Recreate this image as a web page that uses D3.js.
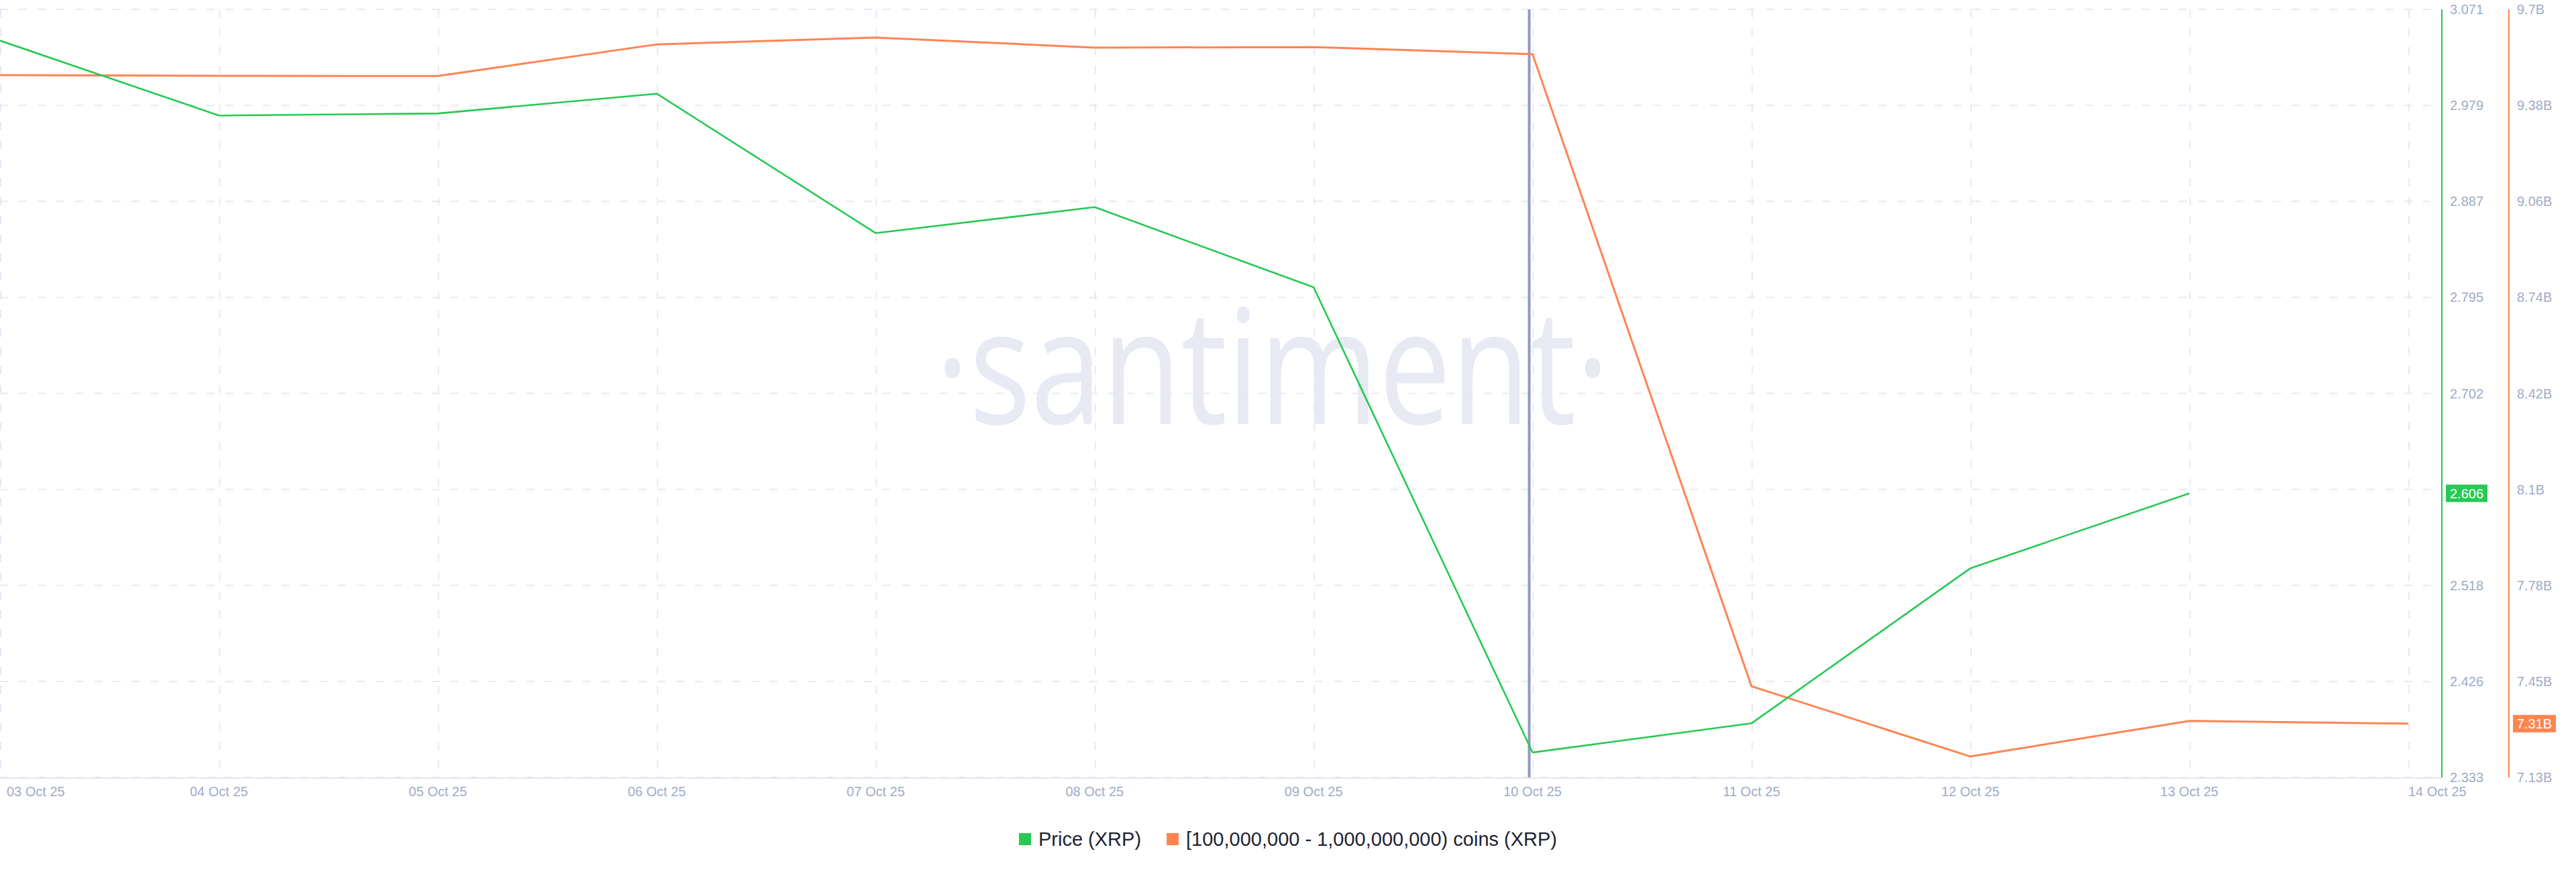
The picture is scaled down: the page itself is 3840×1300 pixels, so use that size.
<!DOCTYPE html>
<html>
<head>
<meta charset="utf-8">
<script src="https://cdn.jsdelivr.net/npm/d3@7"></script>
<style>
  html, body { margin: 0; padding: 0; background: #ffffff; }
  svg { display: block; }
</style>
</head>
<body>
<svg id="chart" width="3840" height="1300"></svg>
<script>
// ---------------- DATA ----------------
const dates = ["2025-10-03","2025-10-04","2025-10-05","2025-10-06","2025-10-07","2025-10-08",
               "2025-10-09","2025-10-10","2025-10-11","2025-10-12","2025-10-13","2025-10-14"];
const priceXRP = [3.041, 2.969, 2.971, 2.990, 2.856, 2.881, 2.804, 2.357, 2.385, 2.534, 2.606];
const holdersBillions = [9.480, 9.478, 9.477, 9.583, 9.606, 9.572, 9.574, 9.550, 7.435, 7.200, 7.319, 7.310];

const priceTickValues = [2.333, 2.42525, 2.5175, 2.60975, 2.702, 2.79425, 2.8865, 2.97875, 3.071];
const priceTickLabels = ["2.333","2.426","2.518","2.61","2.702","2.795","2.887","2.979","3.071"];
const holderTickValues = [7.13, 7.45125, 7.7725, 8.09375, 8.415, 8.73625, 9.0575, 9.37875, 9.7];
const holderTickLabels = ["7.13B","7.45B","7.78B","8.1B","8.42B","8.74B","9.06B","9.38B","9.7B"];

const priceLatestLabel = "2.606";
const holdersLatestLabel = "7.31B";
const markerDate = "2025-10-09T23:38:00Z";
const legendItems = [
  {name: "Price (XRP)", color: "#26c953"},
  {name: "[100,000,000 - 1,000,000,000) coins (XRP)", color: "#ff8450"}
];
const watermark = "\u00B7santiment\u00B7";

// ---------------- LAYOUT ----------------
const W = 3840, H = 1300;
const plot = {left: 0, right: 3640, top: 14, bottom: 1159};
const greenAxisX = 3640, orangeAxisX = 3740;
const GREEN = "#26c953", ORANGE = "#ff8450";
const GRID = "#e6e9f3", LABEL = "#a0abc6";

const parse = d3.utcParse("%Y-%m-%d");
const dateObjs = dates.map(parse);

const svg = d3.select("#chart");
svg.append("rect").attr("width", W).attr("height", H).attr("fill", "#ffffff");

const x = d3.scaleUtc()
  .domain([dateObjs[0], dateObjs[dateObjs.length - 1]])
  .range([plot.left, 3590]);
const yPrice = d3.scaleLinear().domain([2.333, 3.071]).range([plot.bottom, plot.top]);
const yHold = d3.scaleLinear().domain([7.13, 9.7]).range([plot.bottom, plot.top]);

// watermark
svg.append("text")
  .attr("x", 1897).attr("y", 632)
  .attr("text-anchor", "middle")
  .attr("font-family", "'Open Sans', sans-serif")
  .attr("font-weight", 400)
  .attr("font-size", 238)
  .attr("textLength", 1005)
  .attr("lengthAdjust", "spacingAndGlyphs")
  .attr("fill", "#e7e9f3")
  .text(watermark);

// horizontal grid
svg.append("g").selectAll("line").data(priceTickValues).join("line")
  .attr("x1", plot.left).attr("x2", plot.right)
  .attr("y1", d => yPrice(d)).attr("y2", d => yPrice(d))
  .attr("stroke", GRID).attr("stroke-width", 2)
  .attr("stroke-dasharray", "12,16");

// vertical grid
svg.append("g").selectAll("line").data(dateObjs).join("line")
  .attr("x1", d => x(d) + 1).attr("x2", d => x(d) + 1)
  .attr("y1", plot.top).attr("y2", plot.bottom - 11)
  .attr("stroke", GRID).attr("stroke-width", 2)
  .attr("stroke-dasharray", "12,16");

// bottom axis line
svg.append("line")
  .attr("x1", plot.left).attr("x2", plot.right)
  .attr("y1", plot.bottom + 1).attr("y2", plot.bottom + 1)
  .attr("stroke", "#e3e7f0").attr("stroke-width", 2);

// x labels
const fmt = d3.utcFormat("%d %b %y");
svg.append("g").selectAll("text").data(dateObjs).join("text")
  .attr("x", (d, i) => i === 0 ? x(d) + 10 : x(d))
  .attr("y", 1187)
  .attr("text-anchor", (d, i) => i === 0 || i === dateObjs.length - 1 ? "start" : "middle")
  .attr("font-family", "'Liberation Sans', Arial, sans-serif")
  .attr("font-size", 20)
  .attr("fill", LABEL)
  .text(d => fmt(d));

// marker vertical line
svg.append("line")
  .attr("x1", x(new Date(markerDate))).attr("x2", x(new Date(markerDate)))
  .attr("y1", plot.top).attr("y2", plot.bottom)
  .attr("stroke", "#9199bd").attr("stroke-width", 4);

// lines
const priceData = priceXRP.map((v, i) => ({d: dateObjs[i], v}));
const holdData = holdersBillions.map((v, i) => ({d: dateObjs[i], v}));

svg.append("path").datum(holdData)
  .attr("fill", "none").attr("stroke", ORANGE).attr("stroke-width", 3)
  .attr("stroke-linejoin", "round")
  .attr("d", d3.line().x(p => x(p.d)).y(p => yHold(p.v)));

svg.append("path").datum(priceData)
  .attr("fill", "none").attr("stroke", GREEN).attr("stroke-width", 2.6)
  .attr("stroke-linejoin", "round")
  .attr("d", d3.line().x(p => x(p.d)).y(p => yPrice(p.v)));

// right axes
const gAx = svg.append("g").attr("transform", `translate(${greenAxisX},0)`);
gAx.append("line").attr("y1", plot.top).attr("y2", plot.bottom)
  .attr("stroke", GREEN).attr("stroke-width", 2);
gAx.selectAll("text").data(priceTickValues).join("text")
  .attr("x", 12).attr("y", d => yPrice(d)).attr("dy", "0.35em")
  .attr("font-family", "'Liberation Sans', Arial, sans-serif")
  .attr("font-size", 20).attr("fill", LABEL)
  .text((d, i) => priceTickLabels[i]);

const oAx = svg.append("g").attr("transform", `translate(${orangeAxisX},0)`);
oAx.append("line").attr("y1", plot.top).attr("y2", plot.bottom)
  .attr("stroke", ORANGE).attr("stroke-width", 2);
oAx.selectAll("text").data(holderTickValues).join("text")
  .attr("x", 12).attr("y", d => yHold(d)).attr("dy", "0.35em")
  .attr("font-family", "'Liberation Sans', Arial, sans-serif")
  .attr("font-size", 20).attr("fill", LABEL)
  .text((d, i) => holderTickLabels[i]);

// latest value badges
function badge(g, yv, label, color, w) {
  const gg = g.append("g").attr("transform", `translate(6,${yv})`);
  gg.append("rect").attr("x", 0).attr("y", -13).attr("width", w).attr("height", 26).attr("fill", color);
  gg.append("text").attr("x", w / 2).attr("y", 0).attr("dy", "0.36em")
    .attr("text-anchor", "middle")
    .attr("font-family", "'Liberation Sans', Arial, sans-serif")
    .attr("font-size", 20).attr("fill", "#ffffff").text(label);
}
badge(gAx, yPrice(priceXRP[priceXRP.length - 1]), priceLatestLabel, GREEN, 62);
badge(oAx, yHold(holdersBillions[holdersBillions.length - 1]), holdersLatestLabel, ORANGE, 64);

// legend
const lg = svg.append("g");
const items = [];
legendItems.forEach((it, i) => {
  const g = lg.append("g");
  g.append("rect").attr("x", 0).attr("y", -9).attr("width", 18).attr("height", 18).attr("fill", it.color);
  const t = g.append("text").attr("x", 29).attr("y", 0).attr("dy", "0.35em")
    .attr("font-family", "'Liberation Sans', Arial, sans-serif")
    .attr("font-size", 29).attr("fill", "#1d2233").text(it.name);
  const w = 29 + t.node().getComputedTextLength();
  items.push({g, w});
});
const gap = 38;
const total = items.reduce((s, it) => s + it.w, 0) + gap * (items.length - 1);
let pos = 1920 - total / 2;
items.forEach(it => { it.g.attr("transform", `translate(${pos},1251)`); pos += it.w + gap; });
</script>
</body>
</html>
